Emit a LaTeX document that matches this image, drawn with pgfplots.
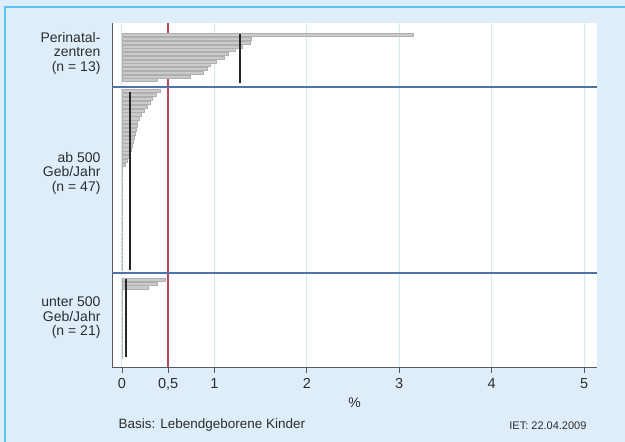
\documentclass[border=0pt]{standalone}
\usepackage{fontspec}
\setmainfont{Liberation Sans}
\usepackage{pgfplots}
\pgfplotsset{compat=1.18}

\definecolor{bgblue}{RGB}{221,238,250}
\definecolor{frameblue}{RGB}{92,196,240}
\definecolor{sepblue}{RGB}{79,115,166}
\definecolor{gridblue}{RGB}{214,234,246}
\definecolor{refred}{RGB}{185,70,90}
\definecolor{barfill}{RGB}{202,202,202}
\definecolor{barline}{RGB}{175,175,175}
\definecolor{txt}{RGB}{45,45,45}

\begin{document}
\begin{tikzpicture}[x=1pt,y=1pt]
\useasboundingbox (0,0) rectangle (625,-442);
\fill[bgblue] (0,0) rectangle (625,-442);
\draw[frameblue, line width=2.5pt] (5,-460) -- (5,-7) -- (660,-7);

\begin{axis}[
  at={(112pt,-367pt)}, anchor=south west,
  scale only axis, width=485pt, height=344pt,
  xmin=-0.108, xmax=5.14,
  ymin=-367, ymax=-23,
  axis background/.style={fill=white},
  axis x line*=bottom, axis y line*=left,
  axis line style={draw=black!65, line width=0.9pt},
  xtick={0,0.5,1,2,3,4,5},
  xticklabels={0,{0,5},1,2,3,4,5},
  tick align=outside,
  major tick length=6pt,
  x tick style={draw=black!65, line width=0.9pt},
  xticklabel style={font=\fontsize{14.5}{15}\selectfont, text=txt, yshift=-2pt},
  ytick={-53,-173,-318},
  yticklabels={{Perinatal-\\zentren\\(n = 13)},{ab 500\\Geb/Jahr\\(n = 47)},{unter 500\\Geb/Jahr\\(n = 21)}},
  y tick style={draw=none},
  yticklabel style={align=right, font=\fontsize{14}{14.5}\selectfont, text=txt, xshift=-2pt},
  xmajorgrids, grid style={draw=gridblue, line width=1pt},
  xlabel={\%},
  xlabel style={at={(axis description cs:0.5,0)}, anchor=center, yshift=-36pt,
    font=\fontsize{14}{15}\selectfont, text=txt},
]
% reference line at 0,5 %
\addplot[refred, line width=1.4pt] coordinates {(0.5,-23) (0.5,-367)};

% Perinatalzentren (n = 13)
\addplot[xbar, bar width=3.0, bar shift=0pt, fill=barfill, draw=barline, line width=0.4pt]
coordinates {
(3.15,-35) (1.40,-38.75) (1.39,-42.5) (1.30,-46.25) (1.22,-50) (1.15,-53.75)
(1.11,-57.5) (1.02,-61.25) (0.95,-65) (0.92,-68.75) (0.88,-72.5) (0.74,-76.25) (0.38,-80)
};

% ab 500 Geb/Jahr (n = 47)
\addplot[xbar, bar width=3.3, bar shift=0pt, fill=barfill, draw=barline, line width=0.4pt]
coordinates {
(0.41,-91.0) (0.37,-94.9) (0.33,-98.7) (0.30,-102.6) (0.27,-106.5) (0.24,-110.4)
(0.21,-114.2) (0.19,-118.1) (0.17,-122.0) (0.16,-125.8) (0.15,-129.7) (0.14,-133.6)
(0.13,-137.4) (0.12,-141.3) (0.11,-145.2) (0.10,-149.1) (0.09,-152.9) (0.08,-156.8)
(0.06,-160.7) (0.04,-164.5) (0,-168.4) (0,-172.3) (0,-176.1) (0,-180.0)
(0,-183.9) (0,-187.8) (0,-191.6) (0,-195.5) (0,-199.4) (0,-203.2) (0,-207.1)
(0,-211.0) (0,-214.8) (0,-218.7) (0,-222.6) (0,-226.5) (0,-230.3) (0,-234.2)
(0,-238.1) (0,-241.9) (0,-245.8) (0,-249.7) (0,-253.5) (0,-257.4) (0,-261.3)
(0,-265.2) (0,-269.0)
};

% unter 500 Geb/Jahr (n = 21)
\addplot[xbar, bar width=3.3, bar shift=0pt, fill=barfill, draw=barline, line width=0.4pt]
coordinates {
(0.47,-279.5) (0.38,-283.4) (0.28,-287.3) (0,-291.1) (0,-295.0) (0,-298.9)
(0,-302.8) (0,-306.6) (0,-310.5) (0,-314.4) (0,-318.3) (0,-322.1) (0,-326.0)
(0,-329.9) (0,-333.8) (0,-337.6) (0,-341.5) (0,-345.4) (0,-349.3) (0,-353.1) (0,-357.0)
};

% group rates
\addplot[black!85, line width=2.2pt] coordinates {(1.28,-34) (1.28,-83)};
\addplot[black!85, line width=2.2pt] coordinates {(0.087,-92) (0.087,-270)};
\addplot[black!85, line width=2.2pt] coordinates {(0.043,-279) (0.043,-357)};

% group separators
\addplot[sepblue, line width=1.6pt] coordinates {(-0.108,-87) (5.14,-87)};
\addplot[sepblue, line width=1.6pt] coordinates {(-0.108,-273) (5.14,-273)};
\end{axis}

\node[anchor=west, font=\fontsize{13.5}{15}\selectfont, text=txt] at (115,-425) {Basis: Lebendgeborene Kinder};
\node[anchor=east, font=\fontsize{11}{13}\selectfont, text=txt] at (590,-426) {IET: 22.04.2009};
\end{tikzpicture}
\end{document}
